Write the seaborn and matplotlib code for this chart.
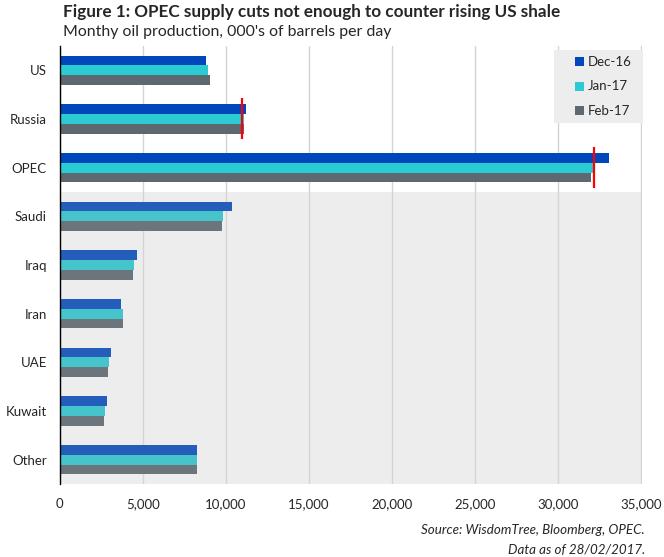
import pandas as pd
import numpy as np
import matplotlib
matplotlib.use("Agg")
import matplotlib.pyplot as plt
from matplotlib.patches import Rectangle
import seaborn as sns

# data (000's barrels per day)
countries = ["US", "Russia", "OPEC", "Saudi", "Iraq", "Iran", "UAE", "Kuwait", "Other"]
months = ["Dec-16", "Jan-17", "Feb-17"]
dec16 = [8800, 11200, 33060, 10400, 4650, 3720, 3090, 2850, 8250]
jan17 = [8920, 11100, 32110, 9820, 4480, 3790, 2950, 2710, 8270]
feb17 = [9050, 11100, 31970, 9760, 4400, 3830, 2910, 2690, 8270]
target_names = ["Russia", "OPEC"]
target_values = [10950, 32150]

colors_top = ["#0047BB", "#2BCBD3", "#5E6870"]
colors_low = ["#255DBA", "#46C4CB", "#6D757C"]

df = pd.DataFrame({"country": countries, "Dec-16": dec16, "Jan-17": jan17, "Feb-17": feb17})
long = df.melt(id_vars="country", var_name="month", value_name="value")

sns.set_theme(style="white")
plt.rcParams["font.family"] = ["Lato", "DejaVu Sans"]

W, H = 664, 557
fig = plt.figure(figsize=(W / 100, H / 100), dpi=100)
ax = fig.add_axes([59.5 / W, 1 - 484 / H, (641.5 - 59.5) / W, (484 - 46) / H])

sns.barplot(data=long, y="country", x="value", hue="month", order=countries,
            hue_order=months, palette=colors_top, orient="h", width=0.6,
            saturation=1, ax=ax, legend=False)

# lower (OPEC members) rows are drawn a touch lighter, like in the source
for h, cont in enumerate(ax.containers):
    for i, bar in enumerate(cont):
        bar.set_edgecolor("none")
        if i >= 3:
            bar.set_facecolor(colors_low[h])

ax.axhspan(2.5, 8.5, color="#EDEDED", zorder=0, lw=0)
ax.set_ylim(8.5, -0.5)

for name, val in zip(target_names, target_values):
    i = countries.index(name)
    ax.vlines(val, i - 0.43, i + 0.41, color="#FF0000", lw=1.6, zorder=5)

ax.set_xlim(0, 35000)
ax.set_xticks(np.arange(0, 35001, 5000))
ax.set_xticklabels([f"{v:,}" for v in range(0, 35001, 5000)], fontsize=9.5)
ax.xaxis.grid(True, color="#D4D4D4", lw=1)
ax.set_axisbelow(True)
ax.tick_params(axis="x", length=0, pad=10)

ax.set_yticks(range(len(countries)))
ax.set_yticklabels(countries, fontsize=9.5)
ax.set_yticks(np.arange(-0.5, 9, 1), minor=True)
ax.tick_params(axis="y", which="major", length=0, pad=9)
ax.tick_params(axis="y", which="minor", length=4.5, width=1, color="black", direction="out")
ax.set_xlabel("")
ax.set_ylabel("")

for s in ["top", "right", "bottom"]:
    ax.spines[s].set_visible(False)
ax.spines["left"].set_color("black")
ax.spines["left"].set_linewidth(1)

# legend box, placed by hand in figure pixels
fig.patches.append(Rectangle((554 / W, 1 - 123 / H), 89 / W, 73 / H,
                             transform=fig.transFigure, facecolor="#EDEDED",
                             edgecolor="none", zorder=3))
for k, (lab, col) in enumerate(zip(months, colors_top)):
    yc = 61.7 + k * 24.5
    fig.patches.append(Rectangle((575 / W, 1 - (yc + 4.5) / H), 9 / W, 9 / H,
                                 transform=fig.transFigure, facecolor=col,
                                 edgecolor="none", zorder=4))
    fig.text(587.5 / W, 1 - yc / H, lab, fontsize=9.5, va="center", ha="left", zorder=5)

fig.text(63 / W, 1 - 12 / H, "Figure 1: OPEC supply cuts not enough to counter rising US shale",
         fontsize=12.3, fontweight="bold", va="center", ha="left")
fig.text(63 / W, 1 - 32 / H, "Monthy oil production, 000's of barrels per day",
         fontsize=11.4, va="center", ha="left")
fig.text(645 / W, 1 - 530.5 / H, "Source: WisdomTree, Bloomberg, OPEC.",
         fontsize=9.6, style="italic", va="center", ha="right")
fig.text(645 / W, 1 - 550 / H, "Data as of 28/02/2017.",
         fontsize=9.6, style="italic", va="center", ha="right")

fig.savefig("out.png", dpi=100)
